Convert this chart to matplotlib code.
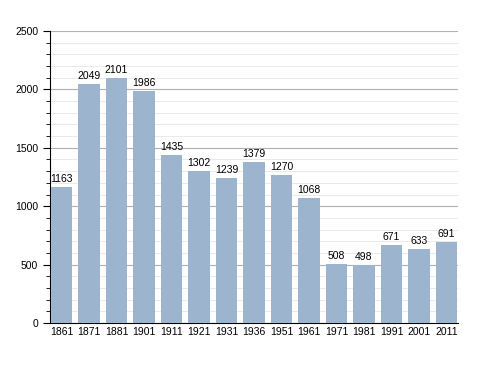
import matplotlib
matplotlib.use("Agg")
import matplotlib.pyplot as plt
from matplotlib.ticker import MultipleLocator

years = ["1861", "1871", "1881", "1901", "1911", "1921", "1931", "1936",
         "1951", "1961", "1971", "1981", "1991", "2001", "2011"]
population = [1163, 2049, 2101, 1986, 1435, 1302, 1239, 1379,
              1270, 1068, 508, 498, 671, 633, 691]

plt.rcParams['font.family'] = ['Liberation Sans', 'DejaVu Sans']
fig = plt.figure(figsize=(4.88, 3.73), dpi=100)
ax = fig.add_axes([0.1025, 0.134, 0.836, 0.783])

x = list(range(len(years)))
ax.bar(x, population, width=0.78, color='#9db4cf', zorder=3)
for xi, v in zip(x, population):
    ax.text(xi, v + 25, str(v), ha='center', va='bottom', fontsize=7.5, zorder=4)

ax.set_ylim(0, 2500)
ax.set_xlim(-0.42, len(years) - 0.58)
ax.yaxis.set_major_locator(MultipleLocator(500))
ax.yaxis.set_minor_locator(MultipleLocator(100))
ax.grid(which='major', axis='y', color='#b0b0b0', linewidth=0.8, zorder=1)
ax.grid(which='minor', axis='y', color='#e6e6e6', linewidth=0.6, zorder=0)
ax.set_xticks(x)
ax.set_xticklabels(years, fontsize=7.5)
ax.tick_params(axis='x', length=0, pad=3)
ax.tick_params(axis='y', which='major', length=5, labelsize=7.5, direction='out')
ax.tick_params(axis='y', which='minor', length=3, direction='out')
for s in ['top', 'right']:
    ax.spines[s].set_visible(False)
ax.spines['left'].set_linewidth(0.8)
ax.spines['bottom'].set_linewidth(0.8)

fig.savefig("out.png", dpi=100)
